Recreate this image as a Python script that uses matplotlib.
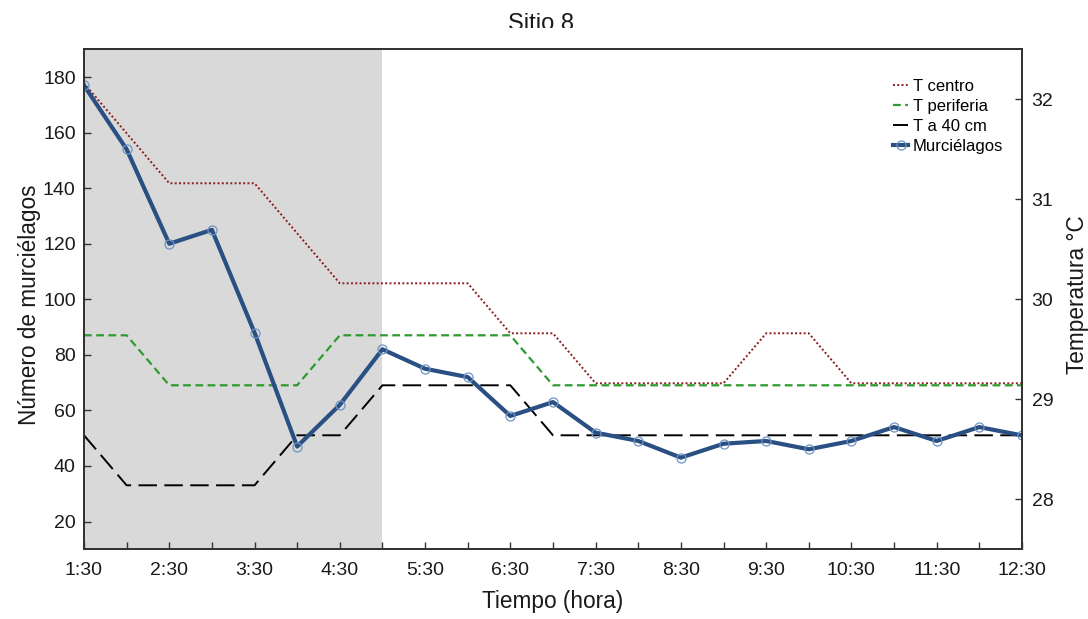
import numpy as np
import matplotlib.pyplot as plt
from matplotlib.transforms import Bbox

plt.rcParams['font.family'] = ['Liberation Sans', 'DejaVu Sans']

# horas de muestreo (cada media hora)
horas = ['1:30', '2:00', '2:30', '3:00', '3:30', '4:00', '4:30', '5:00', '5:30', '6:00',
         '6:30', '7:00', '7:30', '8:00', '8:30', '9:00', '9:30', '10:00', '10:30', '11:00',
         '11:30', '12:00', '12:30']

murcielagos = [177, 154, 120, 125, 88, 47, 62, 82, 75, 72, 58, 63, 52, 49, 43, 48, 49, 46,
               49, 54, 49, 54, 51]

t_centro = [32.16, 31.66, 31.16, 31.16, 31.16, 30.66, 30.16, 30.16, 30.16, 30.16, 29.66,
            29.66, 29.16, 29.16, 29.16, 29.16, 29.66, 29.66, 29.16, 29.16, 29.16, 29.16, 29.16]

t_periferia = [29.64, 29.64, 29.14, 29.14, 29.14, 29.14, 29.64, 29.64, 29.64, 29.64, 29.64,
               29.14, 29.14, 29.14, 29.14, 29.14, 29.14, 29.14, 29.14, 29.14, 29.14, 29.14, 29.14]

t_40cm = [28.64, 28.14, 28.14, 28.14, 28.14, 28.64, 28.64, 29.14, 29.14, 29.14, 29.14,
          28.64, 28.64, 28.64, 28.64, 28.64, 28.64, 28.64, 28.64, 28.64, 28.64, 28.64, 28.64]

# periodo sombreado (de 1:30 a 5:00)
sombra_ini = '1:30'
sombra_fin = '5:00'

x = np.arange(len(horas))

fig = plt.figure(figsize=(10.88, 6.19), dpi=100)
ax = fig.add_axes([0.0772, 0.1126, 0.8621, 0.8078])
ax2 = ax.twinx()

# temperaturas en el eje derecho, debajo de los murcielagos
ax2.axvspan(horas.index(sombra_ini), horas.index(sombra_fin), color='#d9d9d9', lw=0, zorder=0)
l1, = ax2.plot(x, t_centro, color='#8b1c1c', ls=(0, (1, 1.2)), lw=1.4, label='T centro')
l2, = ax2.plot(x, t_periferia, color='#2f9a2f', ls=(0, (3.5, 2)), lw=1.6, label='T periferia')
l3, = ax2.plot(x, t_40cm, color='black', ls=(0, (9.5, 3.8)), lw=1.4, label='T a 40 cm')

ax.set_zorder(ax2.get_zorder() + 1)
ax.patch.set_visible(False)
l4, = ax.plot(x, murcielagos, color='#2a4f82', lw=3, marker='o', ms=6.5, mfc='none',
              mec='#6f93c4', mew=0.9, label='Murciélagos')

ax.set_xlim(x[0], x[-1])
ax.set_ylim(10, 190)
ax2.set_ylim(27.5, 32.5)

ax.set_xticks(x)
ax.set_xticklabels([h if i % 2 == 0 else '' for i, h in enumerate(horas)])
ax.set_yticks(np.arange(20, 181, 20))
ax2.set_yticks([28, 29, 30, 31, 32])

for a in (ax, ax2):
    a.tick_params(direction='in', length=5, width=1, color='#333333', labelsize=14,
                  labelcolor='#1a1a1a')
    for s in a.spines.values():
        s.set_color('#333333')
        s.set_linewidth(1.4)
ax.tick_params(axis='x', pad=9)
ax.tick_params(axis='y', pad=6)
ax2.tick_params(axis='y', pad=7)

ax.set_xlabel('Tiempo (hora)', fontsize=16.3, color='#1a1a1a', va='center')
ax.xaxis.set_label_coords(0.5, -0.105)
ax.set_ylabel('Número de murciélagos', fontsize=16.3, color='#1a1a1a', va='center')
ax.yaxis.set_label_coords(-0.058, 0.49)
ax2.set_ylabel('Temperatura °C', fontsize=16.3, rotation=90, color='#1a1a1a', va='center')
ax2.yaxis.set_label_coords(1.059, 0.509)

# titulo recortado por abajo, como en el original
titulo = fig.text(0.4977, 1 - 30 / 619, 'Sitio 8', ha='center', va='baseline',
                  fontsize=17, color='#1a1a1a')
titulo.set_clip_box(Bbox([[0, 619 - 28], [1088, 619]]))
titulo.set_clip_on(True)

ax.legend(handles=[l1, l2, l3, l4], loc='upper left',
          bbox_to_anchor=(893 / 1088, 1 - 79 / 619), bbox_transform=fig.transFigure,
          frameon=False, fontsize=12, handlelength=0.9, handletextpad=0.3,
          labelspacing=0.3, borderaxespad=0, borderpad=0)

fig.savefig('out.png', dpi=100)
